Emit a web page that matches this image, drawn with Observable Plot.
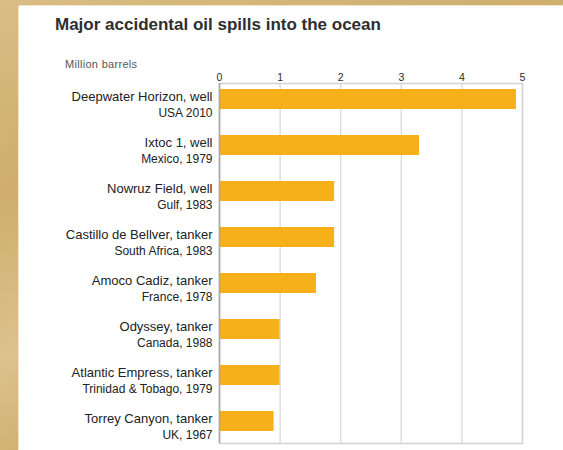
<!DOCTYPE html>
<html>
<head>
<meta charset="utf-8">
<script src="https://cdn.jsdelivr.net/npm/d3@7"></script>
<script src="https://cdn.jsdelivr.net/npm/@observablehq/plot@0.6"></script>
<style>
  html, body { margin: 0; padding: 0; }
  body {
    width: 563px; height: 450px; overflow: hidden; position: relative;
    font-family: "Liberation Sans", Arial, sans-serif;
    background: linear-gradient(160deg, #d9bd84 0%, #cfae6e 30%, #dcc28c 55%, #caa663 80%, #d8bb80 100%);
  }
  #panel {
    position: absolute; left: 19px; top: 6px; right: 0; bottom: 0;
    background: #ffffff; box-shadow: -1px 0 0 #f3e6c8, 0 -1px 0 #f3e6c8;
  }
  #title {
    position: absolute; left: 55px; top: 15.6px; font-size: 17px; line-height: 17px;
    font-weight: bold; color: #2e2e2e; white-space: nowrap;
  }
  #unit {
    position: absolute; left: 65px; top: 58.7px; font-size: 11px; line-height: 11px;
    color: #555555; white-space: nowrap; letter-spacing: 0.3px;
  }
  #chart { position: absolute; left: 0; top: 0; }
</style>
</head>
<body>
<div id="panel"></div>
<div id="title">Major accidental oil spills into the ocean</div>
<div id="unit">Million barrels</div>
<div id="chart"></div>
<script>
const names = ["Deepwater Horizon, well", "Ixtoc 1, well", "Nowruz Field, well", "Castillo de Bellver, tanker", "Amoco Cadiz, tanker", "Odyssey, tanker", "Atlantic Empress, tanker", "Torrey Canyon, tanker"];
const places = ["USA 2010", "Mexico, 1979", "Gulf, 1983", "South Africa, 1983", "France, 1978", "Canada, 1988", "Trinidad & Tobago, 1979", "UK, 1967"];
const values = [4.9, 3.3, 1.9, 1.9, 1.6, 1.0, 1.0, 0.9];
const ticks = [0, 1, 2, 3, 4, 5];

const data = names.map((n, i) => ({name: n, place: places[i], value: values[i]}));

const chart = Plot.plot({
  width: 563,
  height: 450,
  marginLeft: 219,
  marginRight: 41,
  marginTop: 83,
  marginBottom: 7,
  style: {background: "transparent", fontFamily: "Liberation Sans, Arial, sans-serif"},
  x: {domain: [0, 5], axis: null},
  y: {domain: names, axis: null, paddingInner: 0.566, paddingOuter: 0.19, align: 0.343},
  marks: [
    Plot.ruleX(ticks, {stroke: "#d6d6d6", strokeWidth: 1.2}),
    Plot.frame({stroke: "#d2d2d2", strokeWidth: 1.5}),
    Plot.barX(data, {x: "value", y: "name", fill: "#f8b01a"}),
    Plot.ruleX([0], {stroke: "#a8a8a8", strokeWidth: 1.5}),
    Plot.text(ticks, {x: d => d, frameAnchor: "top", dy: -10, text: d => String(d), fontSize: 10.5, fill: "#2a2a2a"}),
    Plot.text(data, {y: "name", text: "name", frameAnchor: "left", textAnchor: "end", dx: -7, dy: -2.2, fontSize: 13, fill: "#222"}),
    Plot.text(data, {y: "name", text: "place", frameAnchor: "left", textAnchor: "end", dx: -7, dy: 13.2, fontSize: 12, fill: "#222"})
  ]
});
document.getElementById("chart").append(chart);
</script>
</body>
</html>
